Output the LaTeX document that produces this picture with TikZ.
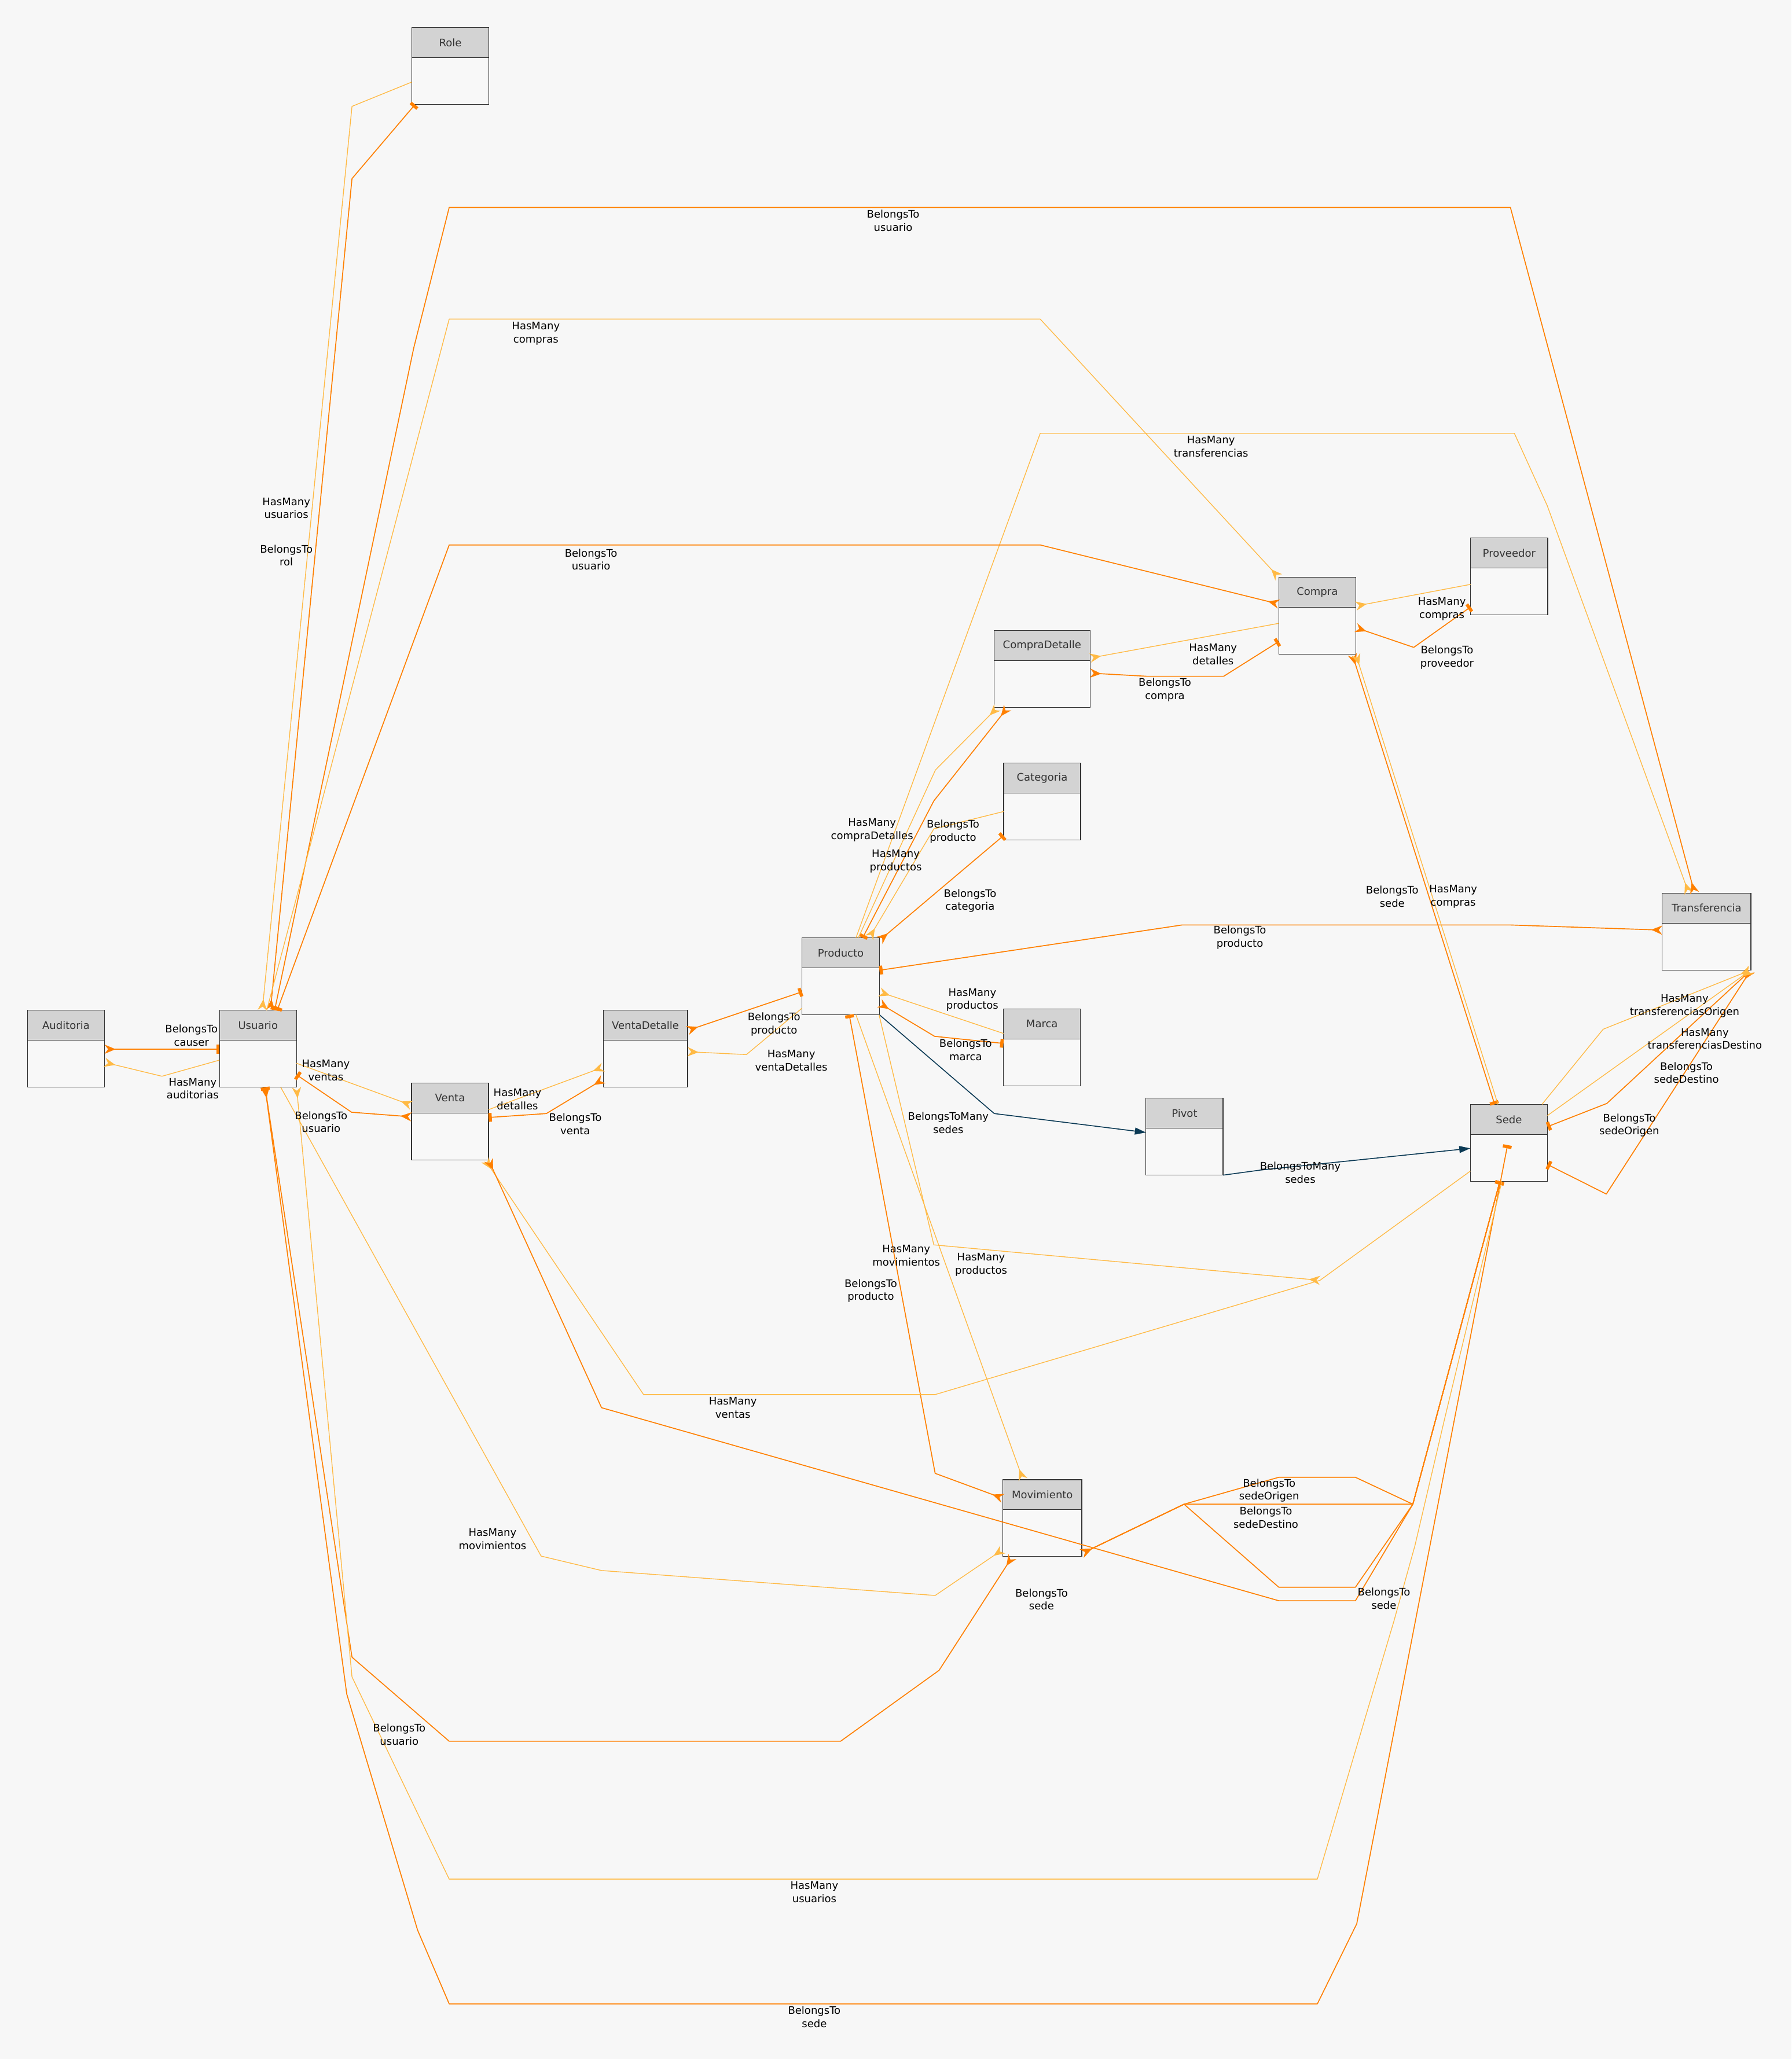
\documentclass[tikz,border=0pt]{standalone}
\usepackage{fontspec}
\setmainfont{DejaVu Sans}
\usetikzlibrary{calc,arrows.meta}
\definecolor{bgc}{HTML}{F7F7F7}
\definecolor{bodyc}{HTML}{F8F8F8}
\definecolor{headc}{HTML}{D3D3D3}
\definecolor{btc}{HTML}{FF8000}
\definecolor{hmc}{HTML}{FFBA45}
\definecolor{btmc}{HTML}{0B3A55}
\definecolor{ttlc}{HTML}{333333}
\newcommand\lblfont{\fontsize{11.3}{14.2}\selectfont}
\newcommand\mkentity[5]{%
  \node[entbox, minimum width=#4] (#1) at (#2,#3) {};
  \fill[headc] (#1.north west) rectangle ($(#1.north east)+(0,22.9)$);
  \draw[boxln] ($(#1.north west)+(0,22.9)$) -- ($(#1.north east)+(0,22.9)$);
  \draw[boxln] (#1.north west) rectangle (#1.south east);
  \node[ttl] (#1-t) at ($(#1.north)+(0,11.45)$) {#5};
}
\tikzset{
  CrowT/.tip={Stealth[reversed,length=12pt,width=10pt]},
  TeeT/.tip={Rectangle[length=3.5pt,width=9.5pt]},
  TriT/.tip={Triangle[length=12pt,width=7.5pt]},
  entbox/.style={draw=none, fill=bodyc, inner sep=0pt, outer sep=0pt, minimum height=2.93cm, anchor=north west},
  boxln/.style={draw=ttlc, line width=0.8pt},
  ttl/.style={font=\lblfont, text=ttlc, inner sep=0pt},
  lbl/.style={font=\lblfont, text=black, align=center, inner sep=0pt},
  bt/.style={draw=btc, line width=1.05pt, line join=round},
  hm/.style={draw=hmc, line width=0.85pt, line join=round},
  btm/.style={draw=btmc, line width=1pt, line join=round},
}
\begin{document}
\begin{tikzpicture}[x=0.05cm, y=-0.05cm]
\fill[bgc] (0,0) rectangle (1364,1568);
\useasboundingbox (0,0) rectangle (1364,1568);

% entities
\mkentity{role}{313.5}{21.0}{2.935cm}{Role}
\mkentity{aud}{20.9}{769.3}{2.935cm}{Auditoria}
\mkentity{usu}{167.1}{769.3}{2.935cm}{Usuario}
\mkentity{ven}{313.3}{824.7}{2.935cm}{Venta}
\mkentity{vd}{459.3}{769.3}{3.21cm}{VentaDetalle}
\mkentity{prod}{610.6}{714.2}{2.95cm}{Producto}
\mkentity{cat}{764.1}{581.2}{2.935cm}{Categoria}
\mkentity{mar}{764.0}{768.3}{2.935cm}{Marca}
\mkentity{cd}{756.8}{480.2}{3.66cm}{CompraDetalle}
\mkentity{com}{973.6}{439.7}{2.935cm}{Compra}
\mkentity{prov}{1119.7}{409.7}{2.935cm}{Proveedor}
\mkentity{tra}{1265.6}{680.1}{3.375cm}{Transferencia}
\mkentity{sede}{1119.5}{841.0}{2.935cm}{Sede}
\mkentity{piv}{872.5}{836.3}{2.935cm}{Pivot}
\mkentity{mov}{763.5}{1126.8}{3.01cm}{Movimiento}

% Auditoria - Usuario
\draw[bt, CrowT-TeeT] ($(aud.north west)+(58.7,29.7)$) -- ($(usu.north west)+(0,29.7)$);
\draw[hm, -CrowT] ($(usu.north west)+(0,38)$) -- (123.3,819.6) -- ($(aud.north west)+(58.7,39.7)$);
% Usuario - Venta
\draw[hm, -CrowT] ($(usu.north west)+(58.7,40.4)$) -- ($(ven.north west)+(0,17)$);
\draw[bt, CrowT-TeeT] ($(ven.north west)+(0,25.8)$) -- (267.7,847) -- ($(usu.north west)+(58.7,49.2)$);
% Venta - VentaDetalle
\draw[hm, -CrowT] ($(ven.north west)+(58.7,20.3)$) -- ($(vd.north west)+(0,43.4)$);
\draw[bt, CrowT-TeeT] ($(vd.north west)+(0,52.6)$) -- (416,848) -- ($(ven.north west)+(58.7,26.3)$);
% VentaDetalle - Producto
\draw[bt, CrowT-TeeT] ($(vd.north west)+(64.2,15.4)$) -- ($(prod.north west)+(0,41.1)$);
\draw[hm, -CrowT] ($(prod.north west)+(0,53.6)$) -- (568.3,803.1) -- ($(vd.north west)+(64.2,31.6)$);
% CompraDetalle - Producto
\draw[bt, CrowT-TeeT] ($(cd.north west)+(10.4,58.6)$) -- (711,609.9) -- ($(prod.north west)+(46.2,0)$);
\draw[hm, -CrowT] ($(prod.north west)+(42.9,0)$) -- (712.2,586.4) -- ($(cd.north west)+(2.6,58.6)$);
% Producto HasMany transferencias
\draw[hm, -CrowT] ($(prod.north west)+(41.1,0)$) -- (792,330) -- (1153,330) -- (1178,385) -- ($(tra.north west)+(20.2,0)$);
% Categoria
\draw[hm, -CrowT] ($(cat.north west)+(0,36.8)$) -- (711,631.2) -- ($(prod.north west)+(51.2,0)$);
\draw[bt, CrowT-TeeT] ($(prod.north west)+(59,2)$) -- ($(cat.north west)+(0,55.1)$);
% Marca
\draw[hm, -CrowT] ($(mar.north west)+(0,18.7)$) -- ($(prod.north west)+(59,41.2)$);
\draw[bt, CrowT-TeeT] ($(prod.north west)+(59,49.8)$) -- (711.6,789.2) -- ($(mar.north west)+(0,26.3)$);
% Pivot
\draw[btm, -TriT] ($(prod.north west)+(59,58.6)$) -- (757,848) -- ($(piv.north west)+(0,26.1)$);
\draw[btm, -TriT] ($(piv.north west)+(58.7,58.6)$) -- (960,891) -- ($(sede.north west)+(0,33.5)$);
% Transferencia BelongsTo producto
\draw[bt, CrowT-TeeT] ($(tra.north west)+(0,28.2)$) -- (1150,704.4) -- (900,704.4) -- ($(prod.north west)+(59,24.7)$);
% Movimiento - Producto
\draw[bt, CrowT-TeeT] ($(mov.north west)+(0,14.2)$) -- (712,1122) -- ($(prod.north west)+(36,58.6)$);
\draw[hm, -CrowT] ($(prod.north west)+(41.1,58.6)$) -- ($(mov.north west)+(15.4,0)$);
% Sede HasMany productos
\draw[hm, -CrowT] ($(prod.north west)+(58.7,58.6)$) -- (711,948) -- (1005,975);
% Sede HasMany ventas
\draw[hm, -CrowT] ($(sede.north west)+(0,50.8)$) -- (1005,975) -- (712,1062) -- (490,1062) -- ($(ven.north west)+(56,58.6)$);
% Venta BelongsTo sede
\draw[bt, CrowT-TeeT] ($(ven.north west)+(58.7,58.6)$) -- (458,1072) -- (973.6,1219) -- (1032,1219) -- (1075.7,1145.5) -- ($(sede.north west)+(22.5,58.6)$);
% Movimiento BelongsTo sede / sedeOrigen / sedeDestino
\draw[bt, CrowT-TeeT] ($(mov.north west)+(60.2,56.2)$) -- (901.5,1145.5) -- (1075.7,1145.5) -- ($(sede.north west)+(22.5,58.6)$);
\draw[bt, CrowT-TeeT] ($(mov.north west)+(60.2,56.2)$) -- (901.5,1145.5) -- (973.6,1125) -- (1032,1125) -- (1075.7,1145.5) -- ($(sede.north west)+(22.5,58.6)$);
\draw[bt, CrowT-TeeT] ($(mov.north west)+(60.2,56.2)$) -- (901.5,1145.5) -- (973.6,1208.7) -- (1032,1208.7) -- (1075.7,1145.5) -- ($(sede.north west)+(22.5,58.6)$);
% Usuario BelongsTo sede
\draw[bt, CrowT-TeeT] ($(usu.north west)+(34.7,58.6)$) -- (264,1290) -- (318,1470) -- (342,1526) -- (1003,1526) -- (1033,1465) -- ($(sede.north west)+(28.3,31)$);
% Movimiento BelongsTo usuario
\draw[bt, CrowT-TeeT] ($(mov.north west)+(7.3,58.6)$) -- (715,1272) -- (640,1326) -- (342,1326) -- (268,1262) -- ($(usu.north west)+(34.7,58.6)$);
% Sede HasMany usuarios
\draw[hm, -CrowT] ($(sede.north west)+(24,58.6)$) -- (1100,1080) -- (1077.3,1177) -- (1061.3,1234.5) -- (1003,1431) -- (342,1431) -- (268,1277) -- ($(usu.north west)+(58.7,58.6)$);
% Usuario HasMany movimientos
\draw[hm, -CrowT] ($(usu.north west)+(46.6,58.6)$) -- (412,1185) -- (458,1196) -- (712,1215) -- ($(mov.north west)+(0,53.2)$);
% Role
\draw[bt, CrowT-TeeT] ($(usu.north west)+(38.8,0)$) -- (268,136) -- ($(role.north west)+(2.5,58.6)$);
\draw[hm, -CrowT] ($(role.north west)+(0,41.5)$) -- (268,81) -- ($(usu.north west)+(32.6,0)$);
% Transferencia BelongsTo usuario
\draw[bt, CrowT-TeeT] ($(tra.north west)+(24.6,0)$) -- (1150,158) -- (342,158) -- (315,265) -- ($(usu.north west)+(42,0)$);
% Usuario HasMany compras
\draw[hm, -CrowT] ($(usu.north west)+(36,0)$) -- (342,243) -- (792,243) -- (com.north west);
% Compra BelongsTo usuario
\draw[bt, CrowT-TeeT] ($(com.north west)+(0,20.3)$) -- (792,415) -- (342,415) -- ($(usu.north west)+(44,0)$);
% Compra - CompraDetalle
\draw[hm, -CrowT] ($(com.north west)+(0,35)$) -- ($(cd.north west)+(73.2,20.9)$);
\draw[bt, CrowT-TeeT] ($(cd.north west)+(73.2,32.4)$) -- (873,515) -- (931.7,515) -- ($(com.north west)+(0,48.9)$);
% Proveedor
\draw[hm, -CrowT] ($(prov.north west)+(0,35.3)$) -- ($(com.north west)+(58.7,21.8)$);
\draw[bt, CrowT-TeeT] ($(com.north west)+(58.7,38.3)$) -- (1076.4,493) -- ($(prov.north west)+(0,52.5)$);
% Sede - Compra
\draw[bt, CrowT-TeeT] ($(com.north west)+(56,58.6)$) -- ($(sede.north west)+(18.5,0)$);
\draw[hm, -CrowT] ($(sede.north west)+(21,0)$) -- ($(com.north west)+(58.7,58.6)$);
% Transferencia - Sede
\draw[bt, CrowT-TeeT] ($(tra.north west)+(67.5,58.6)$) -- (1223.4,840.3) -- ($(sede.north west)+(58.7,17)$);
\draw[bt, CrowT-TeeT] ($(tra.north west)+(67.5,58.6)$) -- (1223,909.3) -- ($(sede.north west)+(58.7,45.8)$);
\draw[hm, -CrowT] ($(sede.north west)+(54.5,0)$) -- (1220.6,783.8) -- ($(tra.north west)+(67.5,58.6)$);
\draw[hm, -CrowT] ($(sede.north west)+(58.7,8.5)$) -- ($(tra.north west)+(67.5,58.6)$);

% labels
\node[lbl] (l1) at (145.8,788.6) {BelongsTo\\causer};
\node[lbl] (l2) at (146.7,829) {HasMany\\auditorias};
\node[lbl] (l3) at (248.1,815.2) {HasMany\\ventas};
\node[lbl] (l4) at (244.5,854.4) {BelongsTo\\usuario};
\node[lbl] (l5) at (394,837) {HasMany\\detalles};
\node[lbl] (l6) at (438,856) {BelongsTo\\venta};
\node[lbl] (l7) at (589.3,780.1) {BelongsTo\\producto};
\node[lbl] (l8) at (602.5,807.6) {HasMany\\ventaDetalles};
\node[lbl] (l9) at (218,387) {HasMany\\usuarios};
\node[lbl] (l10) at (218,423) {BelongsTo\\rol};
\node[lbl] (l11) at (680,168) {BelongsTo\\usuario};
\node[lbl] (l12) at (408,254) {HasMany\\compras};
\node[lbl] (l13) at (922,340) {HasMany\\transferencias};
\node[lbl] (l14) at (450,426) {BelongsTo\\usuario};
\node[lbl] (l15) at (923.6,498.2) {HasMany\\detalles};
\node[lbl] (l16) at (886.9,525.2) {BelongsTo\\compra};
\node[lbl] (l17) at (1097.8,463.6) {HasMany\\compras};
\node[lbl] (l18) at (1101.7,500.5) {BelongsTo\\proveedor};
\node[lbl] (l19) at (664,632) {HasMany\\compraDetalles};
\node[lbl] (l20) at (725.6,633.2) {BelongsTo\\producto};
\node[lbl] (l21) at (682,656) {HasMany\\productos};
\node[lbl] (l22) at (738.6,686) {BelongsTo\\categoria};
\node[lbl] (l23) at (1060,682.7) {BelongsTo\\sede};
\node[lbl] (l24) at (1106.4,682.7) {HasMany\\compras};
\node[lbl] (l25) at (944,714) {BelongsTo\\producto};
\node[lbl] (l26) at (740.3,761.4) {HasMany\\productos};
\node[lbl] (l27) at (735.2,799.6) {BelongsTo\\marca};
\node[lbl] (l28) at (1282.6,766) {HasMany\\transferenciasOrigen};
\node[lbl] (l29) at (1298,791) {HasMany\\transferenciasDestino};
\node[lbl] (l30) at (1284,817) {BelongsTo\\sedeDestino};
\node[lbl] (l31) at (1240.5,857) {BelongsTo\\sedeOrigen};
\node[lbl] (l32) at (722,855) {BelongsToMany\\sedes};
\node[lbl] (l33) at (990,893) {BelongsToMany\\sedes};
\node[lbl] (l34) at (690,956) {HasMany\\movimientos};
\node[lbl] (l35) at (747,963) {HasMany\\productos};
\node[lbl] (l36) at (663,983) {BelongsTo\\producto};
\node[lbl] (l37) at (558,1072) {HasMany\\ventas};
\node[lbl] (l38) at (375,1172) {HasMany\\movimientos};
\node[lbl] (l39) at (966.3,1135) {BelongsTo\\sedeOrigen};
\node[lbl] (l40) at (963.8,1155.6) {BelongsTo\\sedeDestino};
\node[lbl] (l41) at (793,1218) {BelongsTo\\sede};
\node[lbl] (l42) at (1053.7,1217.3) {BelongsTo\\sede};
\node[lbl] (l43) at (304,1321) {BelongsTo\\usuario};
\node[lbl] (l44) at (620,1441) {HasMany\\usuarios};
\node[lbl] (l45) at (620,1536) {BelongsTo\\sede};
\end{tikzpicture}
\end{document}
